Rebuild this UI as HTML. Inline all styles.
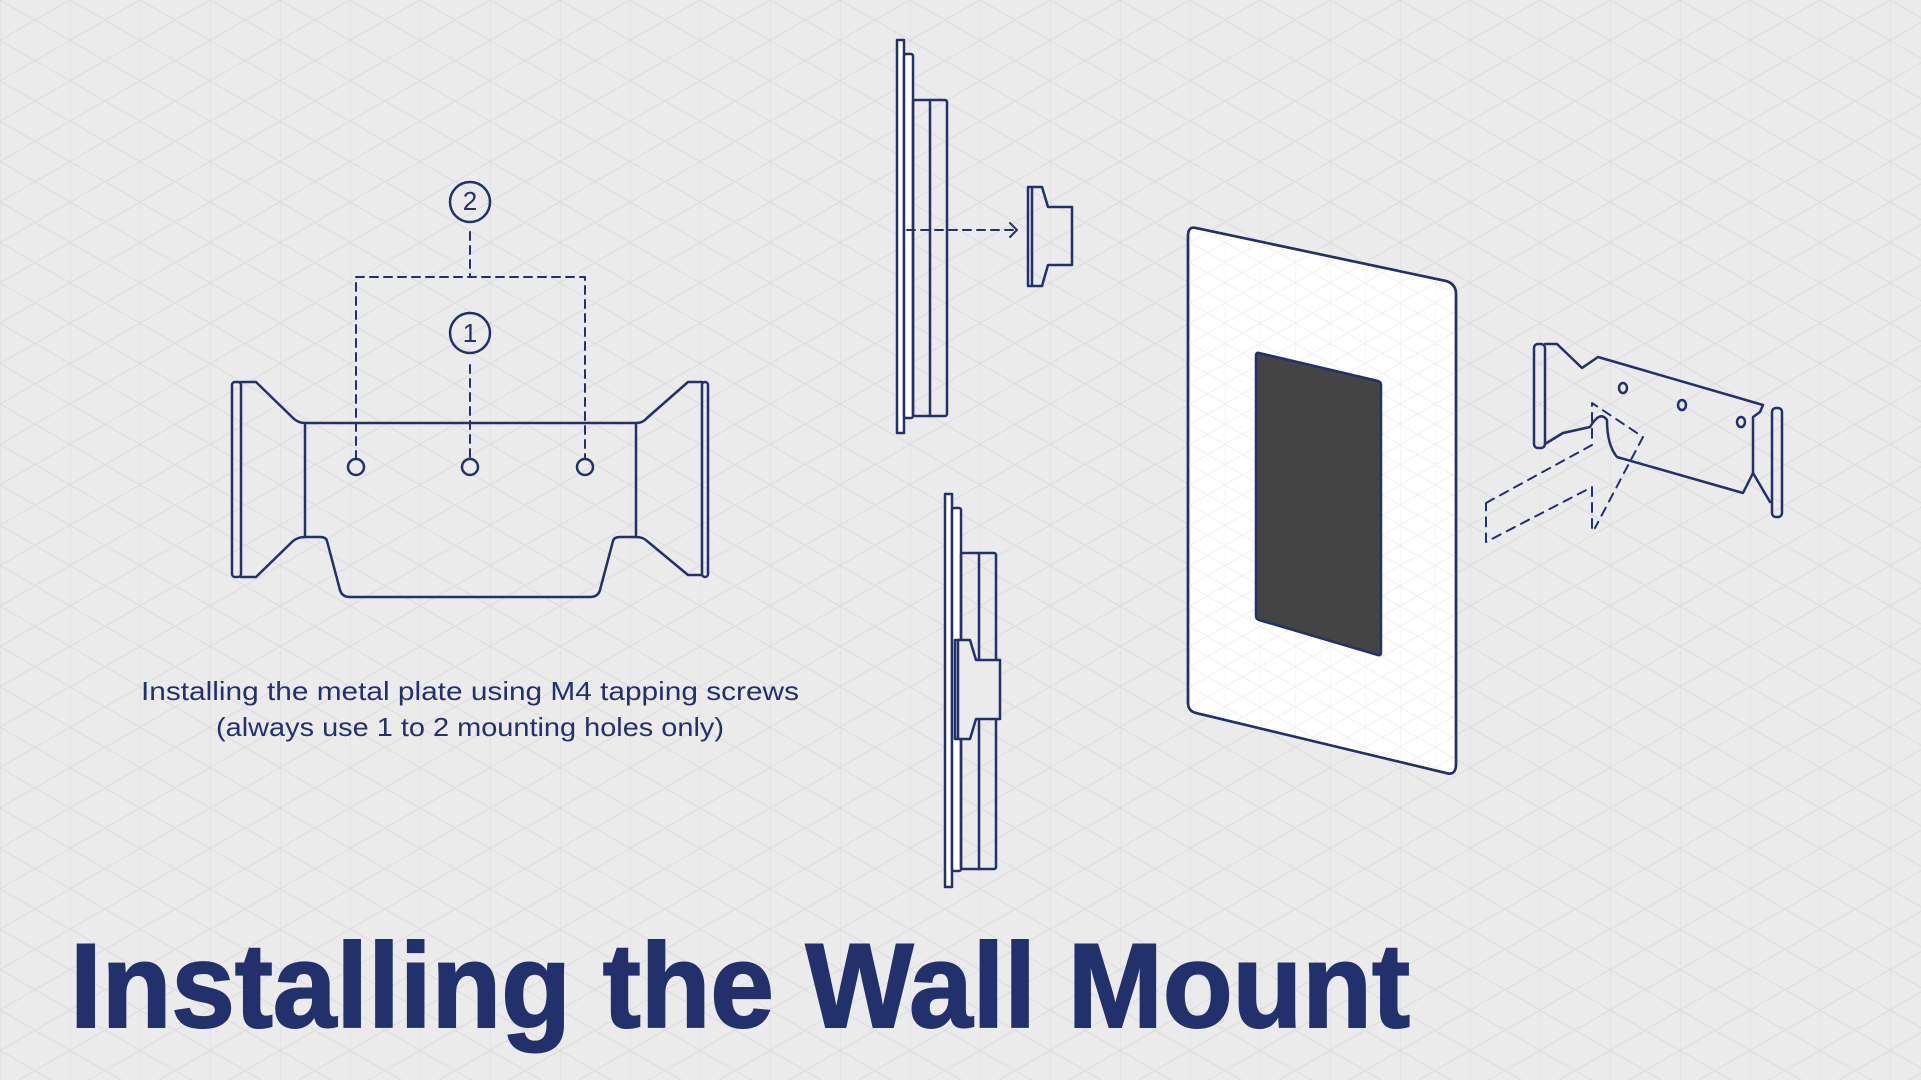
<!DOCTYPE html>
<html><head><meta charset="utf-8"><style>
html,body{margin:0;padding:0;background:#ebebeb;}
svg{display:block}
</style></head><body>
<svg width="1921" height="1080" viewBox="0 0 1921 1080" xmlns="http://www.w3.org/2000/svg">
<defs>
<pattern id="g" width="70" height="80.8" patternUnits="userSpaceOnUse">
<path d="M0 0V80.8M0 0L70 40.4M0 40.4L70 80.8M0 40.4L70 0M0 80.8L70 40.4" stroke="#dedede" stroke-width="1.2" fill="none"/>
</pattern>
<pattern id="g2" width="35" height="40.4" patternUnits="userSpaceOnUse">
<path d="M0 0V40.4M0 0L35 20.2M0 20.2L35 40.4M0 20.2L35 0M0 40.4L35 20.2" stroke="#efefef" stroke-width="1" fill="none"/>
</pattern>
</defs>
<rect width="1921" height="1080" fill="#ebebeb"/>
<rect width="1921" height="1080" fill="url(#g)"/>

<g fill="none" stroke="#22306b" stroke-width="2.5" stroke-linejoin="round" stroke-linecap="round">
<rect x="232" y="382" width="9" height="195" rx="3"/>
<path d="M241 382 H256 L293 418 Q298 423 305 423 H636 Q643 423 647 418 L688 382 H702"/>
<rect x="702" y="382" width="6" height="195" rx="3"/>
<path d="M241 577 H256 L293 541 Q298 537 305 537 H320 Q326 537 327 541 L340 590 Q342 597 350 597 H590 Q598 597 600 590 L613 541 Q614 537 620 537 H636 Q643 537 647 541 L688 575 H702"/>
<path d="M305 423 V537 M636 423 V537"/>
<circle cx="356" cy="467" r="8"/><circle cx="470" cy="467" r="8"/><circle cx="585" cy="467" r="8"/>
<circle cx="470" cy="202" r="20"/><circle cx="470" cy="333" r="20"/>
<path stroke-dasharray="8 6" stroke-width="2" d="M356 459 V277 H585 V459 M470 232 V277 M470 365 V459"/>

<rect x="897" y="40" width="7" height="393" fill="#fff"/>
<rect x="904" y="54" width="9" height="364" rx="2" fill="#fff"/>
<rect x="913" y="100" width="34" height="316" rx="2"/>
<path d="M930 100 V416"/>
<path stroke-dasharray="8 6" stroke-width="2" d="M907 230 H1015"/>
<path stroke-width="2" d="M1010 223 L1017 230 L1010 237"/>
<path d="M1028 187 H1042 L1048 207 H1072 V265 H1048 L1042 286 H1028 Z M1032 187 V286"/>

<rect x="945" y="494" width="7" height="393" fill="#fff"/>
<rect x="952" y="508" width="9" height="363" rx="2" fill="#fff"/>
<rect x="961" y="553" width="35" height="316" rx="2"/>
<path d="M979 553 V869"/>
<path fill="#ebebeb" d="M955 640 H970 L976 660 H1000 V719 H976 L970 739 H955 Z"/>
<path d="M958 640 V739"/>

<path fill="#fff" d="M1196 228 L1446 281 Q1456 284 1456 294 V764 Q1456 776 1446 773 L1196 713 Q1188 711 1188 703 V236 Q1188 226 1196 228 Z"/>
<path fill="url(#g2)" stroke="none" d="M1196 228 L1446 281 Q1456 284 1456 294 V764 Q1456 776 1446 773 L1196 713 Q1188 711 1188 703 V236 Q1188 226 1196 228 Z"/>
<path d="M1196 228 L1446 281 Q1456 284 1456 294 V764 Q1456 776 1446 773 L1196 713 Q1188 711 1188 703 V236 Q1188 226 1196 228 Z"/>
<path fill="#444" d="M1259 353 L1378 381 Q1381 382 1381 385 V652 Q1381 656 1378 655 L1259 620 Q1256 619 1256 616 V356 Q1256 352 1259 353 Z"/>

<rect x="1534" y="344" width="11" height="104" rx="4"/>
<path d="M1545 344 H1557 L1582 368 L1598 357 L1763 405 L1760 412 L1753 417 V473 L1743 493 L1617 457 Q1607 445 1607 420 Q1600 410 1590 427 L1563 433 L1545 444"/>
<rect x="1772" y="408" width="10" height="109" rx="4"/>
<path d="M1753 473 L1770 502"/>
<ellipse cx="1623" cy="388" rx="4" ry="5"/><ellipse cx="1682" cy="405" rx="4" ry="5"/><ellipse cx="1741" cy="422" rx="4" ry="5"/>
<path stroke-dasharray="9 7" stroke-width="2" d="M1486 503 L1592 445 V403 L1643 437 L1595 528 M1592 528 V487 L1486 542 V503"/>
</g>

<g font-family="Liberation Sans, sans-serif" fill="#22306b">
<text x="470" y="210" font-size="26" text-anchor="middle">2</text>
<text x="470" y="342" font-size="26" text-anchor="middle">1</text>
<text x="470" y="700" font-size="26" text-anchor="middle" textLength="658" lengthAdjust="spacingAndGlyphs">Installing the metal plate using M4 tapping screws</text>
<text x="470" y="736" font-size="26" text-anchor="middle" textLength="508" lengthAdjust="spacingAndGlyphs">(always use 1 to 2 mounting holes only)</text>
<text x="70" y="1027" font-size="120" font-weight="bold" stroke="#22306b" stroke-width="2" textLength="1340" lengthAdjust="spacingAndGlyphs">Installing the Wall Mount</text>
</g>
</svg>
</body></html>
